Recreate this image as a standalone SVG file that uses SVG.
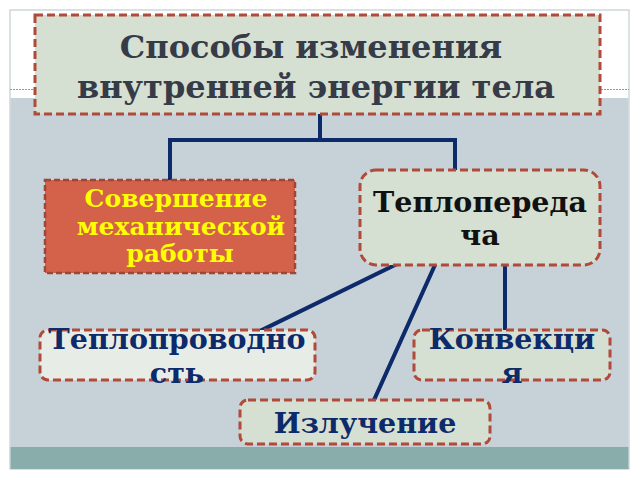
<svg xmlns="http://www.w3.org/2000/svg" width="640" height="480" viewBox="0 0 640 480">
<style>
.dash{stroke:#b04a3a;stroke-width:3;stroke-dasharray:8 4;}
.t{font-family:"DejaVu Serif","Liberation Serif",serif;font-weight:bold;text-anchor:middle;}
.navy{fill:#0d2a6a;}
.conn{stroke:#0d2a6a;stroke-width:4;fill:none;stroke-linecap:square;}
</style>
<rect x="0" y="0" width="640" height="480" fill="#ffffff"/>
<rect x="10" y="10" width="619" height="459" fill="#ffffff" stroke="#b6c4c8" stroke-width="1"/>
<rect x="10.5" y="98" width="618" height="349" fill="#c7d1d8"/>
<rect x="10.5" y="447" width="618" height="22" fill="#89adab"/>
<line x1="10" y1="89.5" x2="629" y2="89.5" stroke="#8a9aa6" stroke-width="1" stroke-dasharray="2 1"/>
<g id="connectors">
<polyline class="conn" points="320,114 320,140"/>
<polyline class="conn" points="170,180 170,140 455,140 455,170"/>
<line class="conn" x1="395" y1="265" x2="262" y2="330" stroke-linecap="butt"/>
<line class="conn" x1="435" y1="265" x2="374" y2="400" stroke-linecap="butt"/>
<line class="conn" x1="505" y1="265" x2="505" y2="330" stroke-linecap="butt"/>
</g>
<g id="title">
<rect x="35" y="15" width="565" height="99" fill="#d5dfd2" class="dash"/>
<text class="t" x="311" y="58" font-size="32" fill="#363b48">Способы изменения</text>
<text class="t" x="316" y="98" font-size="32" fill="#363b48">внутренней энергии тела</text>
</g>
<g id="work">
<rect x="45" y="180" width="250" height="93" fill="#d4614a" stroke="#9c4838" stroke-width="2.5" stroke-dasharray="6 3"/>
<text class="t" x="176" y="207" font-size="25" fill="#ffff00">Совершение</text>
<text class="t" x="181" y="235" font-size="25" fill="#ffff00">механической</text>
<text class="t" x="180" y="262" font-size="25" fill="#ffff00">работы</text>
</g>
<g id="heat">
<rect x="360" y="170" width="240" height="95" rx="16" fill="#d5dfd2" class="dash"/>
<text class="t" x="480" y="212" font-size="28.5" fill="#111111">Теплопереда</text>
<text class="t" x="480" y="245" font-size="28.5" fill="#111111">ча</text>
</g>
<g id="conduction">
<rect x="40" y="330" width="275" height="50" rx="8" fill="#e8ece6" class="dash"/>
<text class="t navy" x="177" y="349" font-size="28.5">Теплопроводно</text>
<text class="t navy" x="177" y="383" font-size="28.5">сть</text>
</g>
<g id="convection">
<rect x="414" y="330" width="196" height="50" rx="8" fill="#d5dfd2" class="dash"/>
<text class="t navy" x="512" y="349" font-size="28.5">Конвекци</text>
<text class="t navy" x="512" y="383" font-size="28.5">я</text>
</g>
<g id="radiation">
<rect x="240" y="400" width="250" height="44" rx="8" fill="#d5dfd2" class="dash"/>
<text class="t navy" x="365" y="433" font-size="28.5">Излучение</text>
</g>
</svg>
